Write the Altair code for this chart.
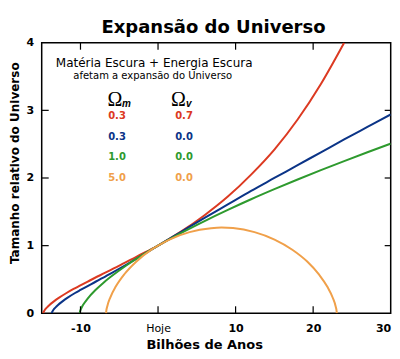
import altair as alt
import pandas as pd

# ---- data ----
curve_names = ["0.3/0.7", "0.3/0.0", "1.0/0.0", "5.0/0.0"]
curve_colors = ["#dc3a22", "#0b3487", "#2e9a2e", "#f0a04a"]

red_x = [-14.8, -14.75, -14.7, -14.5, -14.2, -13.8, -13.3, -12.8, -11.8, -10.8, -8.8, -6.8, -4.8, -2.8, 0, 3, 6, 9, 12, 15, 18, 21, 24]
red_y = [0, 0.02, 0.03, 0.064, 0.10, 0.143, 0.188, 0.228, 0.30, 0.365, 0.485, 0.60, 0.715, 0.835, 1.0, 1.21, 1.45, 1.725, 2.05, 2.42, 2.865, 3.39, 4.0]

blue_x = [-13.7, -13.65, -13.6, -13.4, -13.1, -12.7, -12.2, -11.7, -10.7, -10, -8, -6, -4, -2, 0, 3, 6, 9, 12, 15, 18, 21, 24, 27, 30]
blue_y = [0, 0.02, 0.03, 0.064, 0.10, 0.143, 0.188, 0.228, 0.30, 0.345, 0.47, 0.595, 0.725, 0.86, 1.0, 1.205, 1.41, 1.61, 1.81, 2.0, 2.19, 2.38, 2.57, 2.755, 2.94]

green_x = [-10.1, -10.05, -10.0, -9.8, -9.5, -9.1, -8.1, -7.1, -6.1, -4.1, -2.1, 0, 3, 6, 9, 12, 15, 18, 21, 24, 27, 30]
green_y = [0, 0.029, 0.046, 0.096, 0.152, 0.214, 0.34, 0.445, 0.539, 0.707, 0.856, 1.0, 1.189, 1.364, 1.529, 1.686, 1.835, 1.978, 2.116, 2.25, 2.381, 2.507]

orange_x = [-6.7, -6.679, -6.532, -6.147, -5.431, -4.321, -2.788, -0.844, 0, 1.466, 4.061, 6.837, 8.175, 9.672, 12.441, 15.023, 17.314, 19.236, 20.745, 21.832, 22.528, 22.897, 23.033, 23.05]
orange_y = [0, 0.028, 0.109, 0.237, 0.399, 0.581, 0.767, 0.941, 1.0, 1.09, 1.2, 1.258, 1.268, 1.26, 1.2, 1.09, 0.94, 0.765, 0.575, 0.392, 0.23, 0.104, 0.025, 0]

omega_m = ["0.3", "0.3", "1.0", "5.0"]
omega_v = ["0.7", "0.0", "0.0", "0.0"]

x_tick_values = [-10, 0, 10, 20, 30]
y_tick_values = [0, 1, 2, 3, 4]
x_inner_ticks = [-10, 0, 10, 20]
y_inner_ticks = [1, 2, 3]

# ---- build tables ----
rows = []
for name, xs, ys in zip(curve_names, [red_x, blue_x, green_x, orange_x], [red_y, blue_y, green_y, orange_y]):
    for i, (xv, yv) in enumerate(zip(xs, ys)):
        rows.append({"curve": name, "x": xv, "y": yv, "i": i})
df = pd.DataFrame(rows)

legend_df = pd.DataFrame({"curve": curve_names, "om": omega_m, "ov": omega_v, "row": [0, 1, 2, 3]})

W, H = 349, 270.6
FONT = "DejaVu Sans"

xscale = alt.Scale(domain=[-15, 30], nice=False, zero=False)
yscale = alt.Scale(domain=[0, 4], nice=False, zero=False)
cscale = alt.Scale(domain=curve_names, range=curve_colors)

xaxis = alt.Axis(
    values=x_tick_values, ticks=False, domain=False, grid=False,
    labelExpr="datum.value == 0 ? 'Hoje' : toString(datum.value)",
    labelFontSize=11, labelFont=FONT, labelColor="black",
    labelFontWeight={"condition": {"test": "datum.value == 0", "value": "normal"}, "value": "bold"},
    labelAlign={"condition": {"test": "datum.value == 30", "value": "right"}, "value": "center"},
    labelPadding=9, labelFlush=False, labelOverlap=False,
    title="Bilhões de Anos", titleFont=FONT, titleFontSize=13, titleFontWeight="bold",
    titleColor="black", titleX=162.5, titleY=35, titleAlign="center", titleBaseline="alphabetic")
yaxis = alt.Axis(
    values=y_tick_values, ticks=False, domain=False, grid=False,
    labelFontSize=11, labelFont=FONT, labelFontWeight="bold", labelColor="black",
    labelPadding=8, labelOverlap=False,
    title="Tamanho relativo do Universo", titleFont=FONT, titleFontSize=12,
    titleFontWeight="bold", titleColor="black", titleAngle=270,
    titleX=-23.5, titleY=120, titleAlign="center", titleBaseline="alphabetic")

X = alt.X("x:Q", scale=xscale, axis=xaxis, title="Bilhões de Anos")
Y = alt.Y("y:Q", scale=yscale, axis=yaxis, title="Tamanho relativo do Universo")
C = alt.Color("curve:N", scale=cscale, legend=None)

lines = alt.Chart(df).mark_line(strokeWidth=2, clip=True, interpolate="monotone").encode(
    x=X, y=Y, color=C, order="i:Q")

xt = pd.DataFrame({"x": x_inner_ticks})
yt = pd.DataFrame({"y": y_inner_ticks})
tick_bottom = alt.Chart(xt).mark_rule(color="black", strokeWidth=1.2).encode(
    x=X, y=alt.value(H), y2=alt.value(H - 7))
tick_top = alt.Chart(xt).mark_rule(color="black", strokeWidth=1.2).encode(
    x=X, y=alt.value(0), y2=alt.value(7))
tick_left = alt.Chart(yt).mark_rule(color="black", strokeWidth=1.2).encode(
    y=Y, x=alt.value(0), x2=alt.value(7))
tick_right = alt.Chart(yt).mark_rule(color="black", strokeWidth=1.2).encode(
    y=Y, x=alt.value(W - 6), x2=alt.value(W))

one = pd.DataFrame({"a": [0]})

def label(text, x, y, size, weight="normal", font=FONT, style="normal", baseline="middle", color="black"):
    return alt.Chart(one).mark_text(text=text, fontSize=size, fontWeight=weight, font=font,
                                    fontStyle=style, baseline=baseline, align="center", color=color).encode(
        x=alt.value(x), y=alt.value(y))

title = label("Expansão do Universo", W / 2 - 2.7, -9.4, 18, weight="bold", baseline="alphabetic")
line1 = label("Matéria Escura + Energia Escura", 112.5, 20.6, 12)
line2 = label("afetam a expansão do Universo", 111, 33, 10)
om_sym = label("Ω", 73.3, 63, 20, font="Liberation Serif", baseline="alphabetic")
om_sub = label("m", 84.8, 64, 10, weight="bold", font="Liberation Sans", style="italic", baseline="alphabetic")
ov_sym = label("Ω", 136.6, 63, 20, font="Liberation Serif", baseline="alphabetic")
ov_sub = label("v", 147.2, 64, 10, weight="bold", font="Liberation Sans", style="italic", baseline="alphabetic")

leg_base = alt.Chart(legend_df).transform_calculate(
    y="4 - (73.3 + datum.row * 20.6) / 67.65")
leg_m = leg_base.mark_text(fontSize=10, fontWeight="bold", font=FONT, baseline="middle", align="center").encode(
    x=alt.value(75.3), y=Y, text="om:N", color=C)
leg_v = leg_base.mark_text(fontSize=10, fontWeight="bold", font=FONT, baseline="middle", align="center").encode(
    x=alt.value(142.3), y=Y, text="ov:N", color=C)

chart = alt.layer(
    lines, tick_bottom, tick_top, tick_left, tick_right,
    title, line1, line2, om_sym, om_sub, ov_sym, ov_sub, leg_m, leg_v,
).properties(
    width=W, height=H,
    autosize=alt.AutoSizeParams(type="none"),
    padding={"left": 33.7, "top": 34.7, "right": 1.3, "bottom": 38},
    background="white",
).configure_view(stroke="black", strokeWidth=1.5)

chart.save("out.html", embed_options={"renderer": "svg", "actions": False})
